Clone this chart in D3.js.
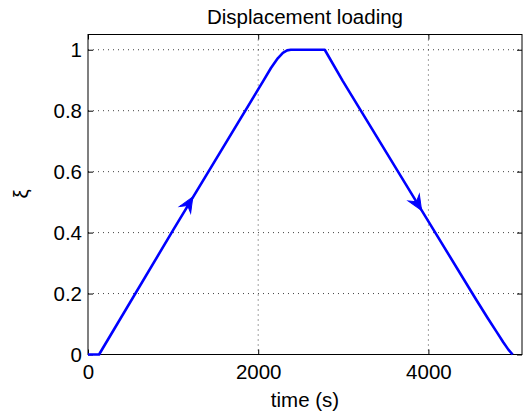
<!DOCTYPE html>
<html><head><meta charset="utf-8">
<script src="https://cdn.jsdelivr.net/npm/d3@7"></script>
<style>body{margin:0;background:#fff}text{font-family:"Liberation Sans",Arial,Helvetica,sans-serif;fill:#000}</style>
</head><body>
<svg id="c" width="523" height="416"></svg>
<script>
const timeS = [0, 130, 1000, 2060, 2150, 2230, 2290, 2340, 2383, 2782, 2993, 4000, 4566, 4700, 4800, 4880, 4940, 4990];
const xi    = [0, 0, 0.408, 0.898, 0.940, 0.972, 0.990, 0.998, 1, 1, 0.898, 0.437, 0.178, 0.118, 0.075, 0.040, 0.016, 0];
const xTicks = [0, 2000, 4000];
const yTicks = [0, 0.2, 0.4, 0.6, 0.8, 1];
const arrowT = [1232, 3920];
const arrowXi = [0.517, 0.473];

const svg = d3.select("#c");
const L=88, R=522, T=34.5, B=354.5;
const x = d3.scaleLinear().domain([0,5100]).range([L,R]);
const y = d3.scaleLinear().domain([0,1.05]).range([B,T]);

// grid
const g = svg.append("g");
g.selectAll(".gx").data(xTicks.filter(d=>d>0)).enter().append("line")
 .attr("x1",d=>x(d)).attr("x2",d=>x(d)).attr("y1",T).attr("y2",B)
 .attr("stroke","#444").attr("stroke-width",1).attr("stroke-dasharray","1,4");
g.selectAll(".gy").data(yTicks.filter(d=>d>0)).enter().append("line")
 .attr("y1",d=>y(d)).attr("y2",d=>y(d)).attr("x1",L).attr("x2",R)
 .attr("stroke","#444").attr("stroke-width",1).attr("stroke-dasharray","1,4");

// axes
const xa = svg.append("g").attr("transform",`translate(0,${B})`)
 .call(d3.axisBottom(x).tickValues(xTicks).tickSize(-5).tickPadding(10).tickFormat(d3.format("d")));
const xt = svg.append("g").attr("transform",`translate(0,${T})`)
 .call(d3.axisTop(x).tickValues(xTicks).tickSize(-5).tickFormat(""));
const ya = svg.append("g").attr("transform",`translate(${L},0)`)
 .call(d3.axisLeft(y).tickValues(yTicks).tickSize(-5).tickPadding(6).tickFormat(d=>d===0?"0":d===1?"1":d3.format(".1f")(d)));
const yr = svg.append("g").attr("transform",`translate(${R},0)`)
 .call(d3.axisRight(y).tickValues(yTicks).tickSize(-5).tickFormat(""));
[xa,xt,ya,yr].forEach(a=>{a.select(".domain").remove();a.selectAll("line").attr("stroke","#000");
 a.selectAll("text").style("font-size","20.5px").attr("fill","#000");});
svg.append("rect").attr("x",L).attr("y",T).attr("width",R-L).attr("height",B-T)
 .attr("fill","none").attr("stroke","#000").attr("stroke-width",1);

// data line
const pts = timeS.map((t,i)=>[t,xi[i]]);
svg.append("path").datum(pts)
 .attr("d",d3.line().x(d=>x(d[0])).y(d=>y(d[1])))
 .attr("fill","none").attr("stroke","#0000ff").attr("stroke-width",2.6).attr("stroke-linejoin","round");

// arrows
function lineAngle(t){
  let i=1; while(i<timeS.length-1 && timeS[i]<t) i++;
  const dx=x(timeS[i])-x(timeS[i-1]), dy=y(xi[i])-y(xi[i-1]);
  return Math.atan2(dy,dx);
}
arrowT.forEach((t,k)=>{
  const px=x(t), py=y(arrowXi[k]);
  const a=lineAngle(t)*180/Math.PI;
  svg.append("path").attr("d","M0,0 L-15,-6.5 L-10,0 L-15,6.5 Z")
   .attr("transform",`translate(${px},${py}) rotate(${a})`)
   .attr("fill","#0000ff").attr("stroke","#0000ff").attr("stroke-width",1);
});

// labels
svg.append("text").attr("x",(L+R)/2).attr("y",24).attr("text-anchor","middle").style("font-size","20.5px").text("Displacement loading");
svg.append("text").attr("x",(L+R)/2).attr("y",407).attr("text-anchor","middle").style("font-size","20.5px").text("time (s)");
svg.append("text").attr("transform",`translate(28,194) rotate(-90)`).attr("text-anchor","middle").style("font-size","20.5px").text("ξ");
</script>
</body></html>
